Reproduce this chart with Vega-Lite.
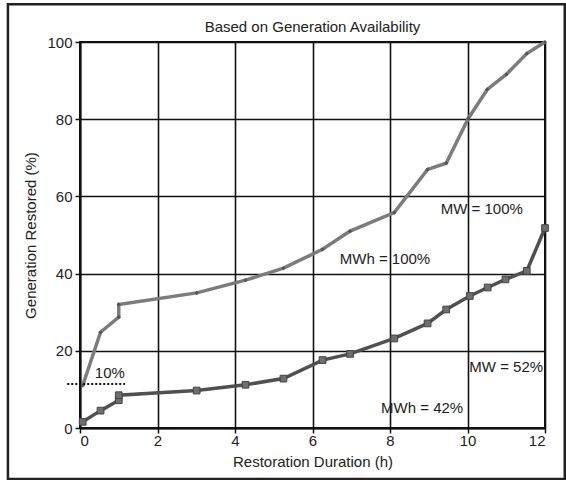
{
  "$schema": "https://vega.github.io/schema/vega-lite/v6.json",
  "width": 465,
  "height": 386,
  "autosize": "none",
  "padding": {"left": 80, "top": 42, "right": 21, "bottom": 52},
  "background": "white",
  "config": {
    "font": "Liberation Sans",
    "view": {"stroke": "#111", "strokeWidth": 2},
    "axis": {
      "grid": true,
      "gridColor": "#111",
      "gridWidth": 1.6,
      "gridOpacity": 1,
      "domainColor": "#111",
      "domainWidth": 2,
      "tickColor": "#111",
      "tickWidth": 1.5,
      "tickSize": 5,
      "labelFontSize": 15,
      "labelColor": "#222",
      "titleFontSize": 15,
      "titleFontWeight": "normal",
      "titleColor": "#222"
    }
  },
  "title": {
    "text": "Based on Generation Availability",
    "fontSize": 15,
    "fontWeight": "normal",
    "color": "#222",
    "offset": -32
  },
  "datasets": {
    "series": [
      {"series": "MW", "h": 0.07, "pct": 11.0},
      {"series": "MW", "h": 0.53, "pct": 24.8},
      {"series": "MW", "h": 1.0, "pct": 28.7},
      {"series": "MW", "h": 1.0, "pct": 32.0},
      {"series": "MW", "h": 3.01, "pct": 35.0},
      {"series": "MW", "h": 4.27, "pct": 38.3},
      {"series": "MW", "h": 5.25, "pct": 41.4},
      {"series": "MW", "h": 6.26, "pct": 46.3},
      {"series": "MW", "h": 6.97, "pct": 51.0},
      {"series": "MW", "h": 8.11, "pct": 55.8},
      {"series": "MW", "h": 8.97, "pct": 67.0},
      {"series": "MW", "h": 9.45, "pct": 68.6},
      {"series": "MW", "h": 10.02, "pct": 80.2},
      {"series": "MW", "h": 10.51, "pct": 87.7},
      {"series": "MW", "h": 11.0, "pct": 91.6},
      {"series": "MW", "h": 11.53, "pct": 97.0},
      {"series": "MW", "h": 12.0, "pct": 100.0},
      {"series": "MWh", "h": 0.07, "pct": 1.6},
      {"series": "MWh", "h": 0.53, "pct": 4.5},
      {"series": "MWh", "h": 1.0, "pct": 7.2},
      {"series": "MWh", "h": 1.0, "pct": 8.5},
      {"series": "MWh", "h": 3.01, "pct": 9.7},
      {"series": "MWh", "h": 4.27, "pct": 11.2},
      {"series": "MWh", "h": 5.25, "pct": 12.8},
      {"series": "MWh", "h": 6.26, "pct": 17.6},
      {"series": "MWh", "h": 6.97, "pct": 19.2},
      {"series": "MWh", "h": 8.11, "pct": 23.2},
      {"series": "MWh", "h": 8.97, "pct": 27.1},
      {"series": "MWh", "h": 9.45, "pct": 30.7},
      {"series": "MWh", "h": 10.06, "pct": 34.2},
      {"series": "MWh", "h": 10.52, "pct": 36.4},
      {"series": "MWh", "h": 10.98, "pct": 38.5},
      {"series": "MWh", "h": 11.53, "pct": 40.7},
      {"series": "MWh", "h": 12.0, "pct": 51.8}
    ],
    "notes": [
      {"label": "10%", "h": 0.77, "pct": 14.2},
      {"label": "MWh = 100%", "h": 7.87, "pct": 43.8},
      {"label": "MW = 100%", "h": 10.37, "pct": 56.7},
      {"label": "MW = 52%", "h": 11.0, "pct": 15.8},
      {"label": "MWh = 42%", "h": 8.83, "pct": 5.1}
    ],
    "threshold": [
      {"h": -0.33, "h2": 1.16, "pct": 11.4}
    ],
    "frame": [
      {"h": -1.86, "h2": 12.51, "pct": -13.2, "pct2": 109.8}
    ]
  },
  "encoding": {
    "x": {
      "field": "h",
      "type": "quantitative",
      "scale": {"domain": [0, 12], "nice": false, "zero": false},
      "axis": {"values": [0, 2, 4, 6, 8, 10, 12], "title": "Restoration Duration (h)", "labelPadding": 0, "titlePadding": 6}
    },
    "y": {
      "field": "pct",
      "type": "quantitative",
      "scale": {"domain": [0, 100], "nice": false},
      "axis": {"values": [0, 20, 40, 60, 80, 100], "title": "Generation Restored (%)", "labelPadding": 3, "titlePadding": 8}
    }
  },
  "layer": [
    {
      "data": {"name": "frame"},
      "mark": {"type": "rect", "fill": "transparent", "stroke": "#222", "strokeWidth": 2.5, "clip": false},
      "encoding": {
        "x2": {"field": "h2"},
        "y2": {"field": "pct2"}
      }
    },
    {
      "data": {"name": "series"},
      "mark": {"type": "line", "strokeWidth": 3.5},
      "encoding": {
        "color": {"field": "series", "type": "nominal", "scale": {"domain": ["MW", "MWh"], "range": ["#7c7c7c", "#505050"]}, "legend": null},
        "order": {"field": "pct", "type": "quantitative"}
      }
    },
    {
      "data": {"name": "series"},
      "transform": [{"filter": "datum.series === 'MWh'"}],
      "mark": {"type": "square", "size": 45, "filled": true, "fill": "#6e6e6e", "stroke": "#444", "strokeWidth": 1, "opacity": 1}
    },
    {
      "data": {"name": "series"},
      "transform": [{"filter": "datum.series === 'MW'"}],
      "mark": {"type": "point", "shape": "diamond", "size": 18, "filled": true, "color": "#555", "opacity": 1}
    },
    {
      "data": {"name": "threshold"},
      "mark": {"type": "rule", "strokeDash": [2, 2], "strokeWidth": 2, "color": "#111", "clip": false},
      "encoding": {"x2": {"field": "h2"}}
    },
    {
      "data": {"name": "notes"},
      "mark": {"type": "text", "fontSize": 15, "color": "#222", "align": "center", "baseline": "middle"},
      "encoding": {"text": {"field": "label", "type": "nominal"}}
    }
  ]
}
